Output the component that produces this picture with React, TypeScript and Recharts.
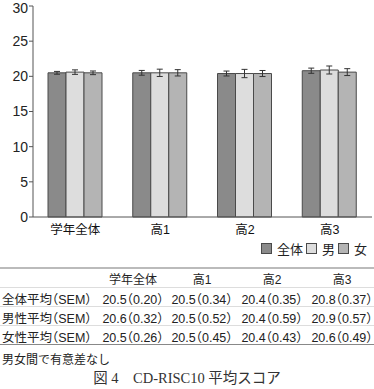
import React from 'react';
import { BarChart, Bar, XAxis, YAxis, ErrorBar, Legend } from 'recharts';

const categories = ['学年全体', '高1', '高2', '高3'];
const meanAll = [20.5, 20.5, 20.4, 20.8];
const semAll = [0.2, 0.34, 0.35, 0.37];
const meanMale = [20.6, 20.5, 20.4, 20.9];
const semMale = [0.32, 0.52, 0.59, 0.57];
const meanFemale = [20.5, 20.5, 20.4, 20.6];
const semFemale = [0.26, 0.45, 0.43, 0.49];
const seriesNames = ['全体', '男', '女'];
const rowLabels = ['全体平均（SEM）', '男性平均（SEM）', '女性平均（SEM）'];
const yTicks = [0, 5, 10, 15, 20, 25, 30];
const boundaryTicks = [1, 2, 3];
const note = '男女間で有意差なし';
const caption = '図 4　CD-RISC10 平均スコア';

const colors = ['#8a8a8a', '#dddddd', '#b4b4b4'];
const edge = '#4a4a4a';

const data = categories.map((name, i) => ({
  name,
  all: meanAll[i],
  allSem: semAll[i],
  male: meanMale[i],
  maleSem: semMale[i],
  female: meanFemale[i],
  femaleSem: semFemale[i],
}));

const tableRows = [
  { label: rowLabels[0], means: meanAll, sems: semAll },
  { label: rowLabels[1], means: meanMale, sems: semMale },
  { label: rowLabels[2], means: meanFemale, sems: semFemale },
];

const sans = "'Liberation Sans', 'Noto Sans CJK JP', sans-serif";
const colCenters = [133, 202, 272, 342];

const LegendContent = () => (
  <div style={{ display: 'flex', justifyContent: 'flex-end', alignItems: 'center', fontFamily: sans, fontSize: 13, color: '#222', paddingRight: 5, marginTop: 2 }}>
    {seriesNames.map((n, i) => (
      <div key={n} style={{ display: 'flex', alignItems: 'center', marginLeft: i === 0 ? 0 : 3 }}>
        <div style={{ width: 9, height: 9, background: colors[i], border: `1px solid ${edge}`, marginRight: 5 }} />
        <span>{n}</span>
      </div>
    ))}
  </div>
);

export default function App() {
  return (
    <div style={{ position: 'absolute', left: 0, top: 0, width: 374, height: 389, background: '#fff', fontFamily: sans, color: '#222', fontFeatureSettings: "'halt'" }}>
      <BarChart
        width={374}
        height={262}
        data={data}
        margin={{ top: 6, right: 2, left: 0, bottom: 4 }}
        barCategoryGap={15}
        barGap={0}
      >
        <XAxis
          xAxisId="b"
          type="number"
          domain={[0, 4]}
          ticks={boundaryTicks}
          axisLine={false}
          tick={false}
          tickSize={-4}
          tickLine={{ stroke: '#777' }}
          height={0}
          allowDataOverflow
        />
        <XAxis
          xAxisId="cat"
          dataKey="name"
          tickLine={false}
          axisLine={{ stroke: '#555' }}
          tick={{ fontSize: 12.5, fill: '#111', fontFamily: sans }}
          height={20}
        />
        <YAxis
          domain={[0, 30]}
          ticks={yTicks}
          width={33}
          axisLine={{ stroke: '#555' }}
          tickLine={{ stroke: '#555' }}
          tickSize={4}
          tickMargin={1}
          tick={{ fontSize: 14, fill: '#222', fontFamily: sans }}
        />
        <Legend verticalAlign="bottom" align="right" content={<LegendContent />} />
        <Bar xAxisId="cat" dataKey="all" name={seriesNames[0]} fill={colors[0]} stroke={edge} strokeWidth={1} isAnimationActive={false}>
          <ErrorBar dataKey="allSem" width={3} stroke="#333" strokeWidth={1} />
        </Bar>
        <Bar xAxisId="cat" dataKey="male" name={seriesNames[1]} fill={colors[1]} stroke={edge} strokeWidth={1} isAnimationActive={false}>
          <ErrorBar dataKey="maleSem" width={3} stroke="#333" strokeWidth={1} />
        </Bar>
        <Bar xAxisId="cat" dataKey="female" name={seriesNames[2]} fill={colors[2]} stroke={edge} strokeWidth={1} isAnimationActive={false}>
          <ErrorBar dataKey="femaleSem" width={3} stroke="#333" strokeWidth={1} />
        </Bar>
      </BarChart>

      <div style={{ position: 'absolute', left: 0, top: 267, width: 374, borderTop: '2px solid #bbb' }}>
        <div style={{ position: 'relative', height: 18, borderBottom: '1px solid #ddd', fontSize: 12 }}>
          {categories.map((c, j) => (
            <div key={c} style={{ position: 'absolute', left: colCenters[j] - 45, width: 90, textAlign: 'center', top: 1 }}>{c}</div>
          ))}
        </div>
        {tableRows.map((r, i) => (
          <div key={r.label} style={{ position: 'relative', height: 18, borderBottom: i === 2 ? '1px solid #888' : '1px solid #ddd', fontSize: 12.5 }}>
            <div style={{ position: 'absolute', left: 2, top: 1 }}>{r.label}</div>
            {r.means.map((m, j) => (
              <div key={j} style={{ position: 'absolute', left: colCenters[j] - 45, width: 90, textAlign: 'center', top: 1 }}>
                {`${m.toFixed(1)}（${r.sems[j].toFixed(2)}）`}
              </div>
            ))}
          </div>
        ))}
      </div>

      <div style={{ position: 'absolute', left: 2, top: 350, fontSize: 12 }}>{note}</div>
      <div style={{ position: 'absolute', left: 0, width: 374, textAlign: 'center', top: 366, fontSize: 14.5, fontFamily: "'Liberation Serif', 'Noto Sans CJK JP', serif", color: '#333' }}>{caption}</div>
    </div>
  );
}
